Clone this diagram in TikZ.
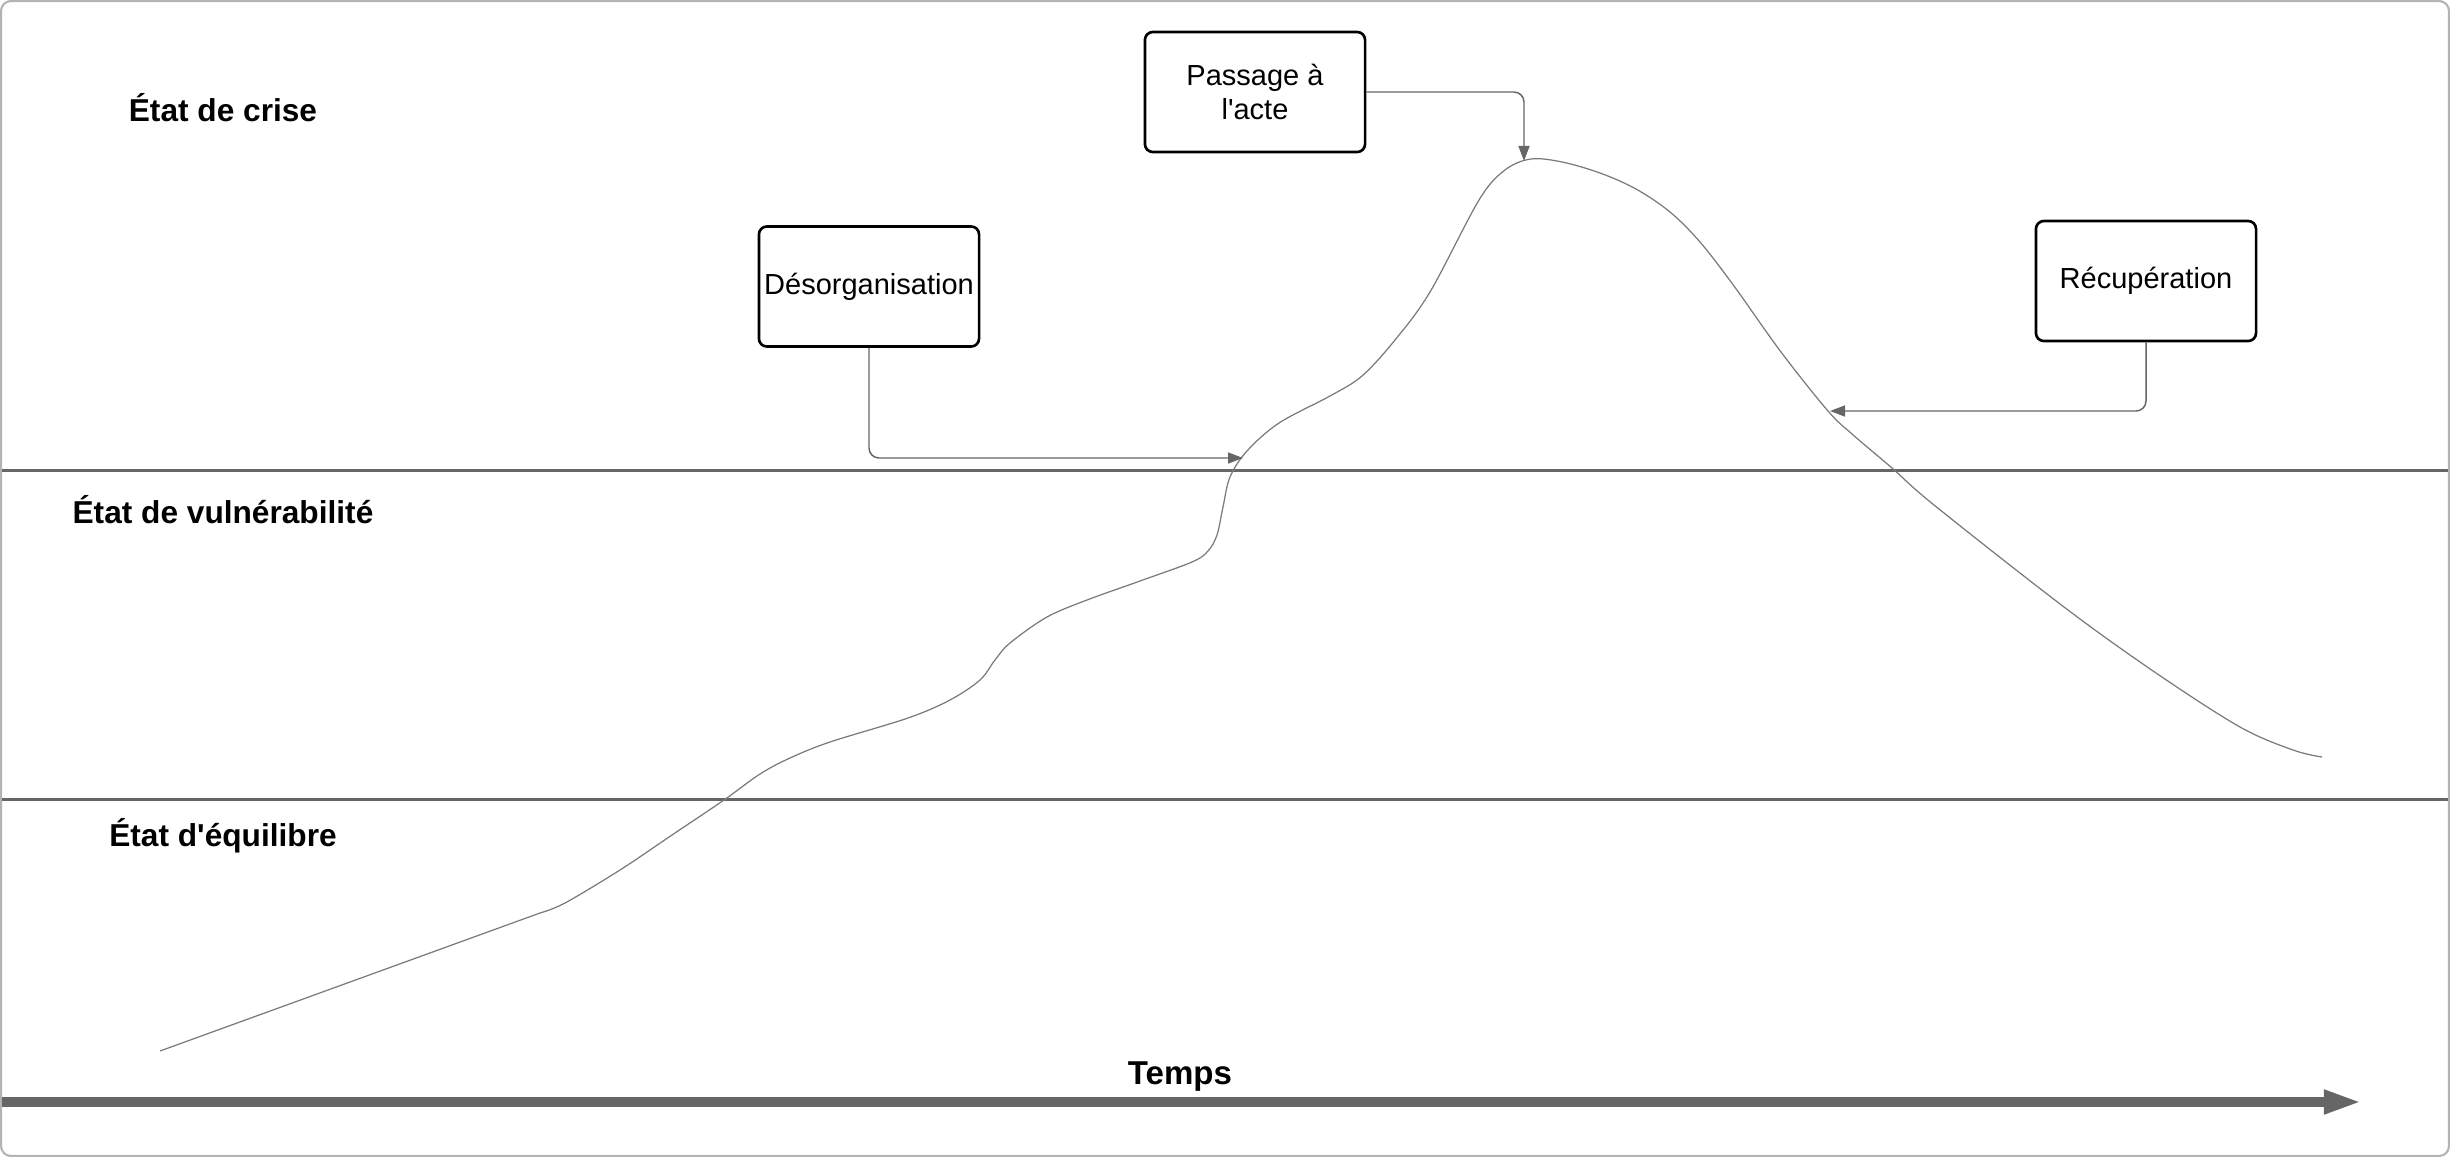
\documentclass[tikz,border=0pt]{standalone}
\usepackage{fontspec}
\setmainfont{Liberation Sans}
% plain family: keeps straight apostrophes
\newfontfamily\drawfont{Liberation Sans}
\usetikzlibrary{arrows.meta}
\definecolor{framegray}{HTML}{B3B3B3}
\definecolor{linegray}{HTML}{666666}
\definecolor{curvegray}{HTML}{7A7A7A}

\begin{document}
\begin{tikzpicture}[x=0.01cm,y=-0.01cm,
  phase/.style={draw=black, line width=0.75pt, rounded corners=0.08cm,
    minimum width=2.2cm, minimum height=1.2cm, inner sep=0pt, align=center,
    font=\drawfont\fontsize{8.25pt}{9.7pt}\selectfont},
  statelabel/.style={anchor=base, inner sep=0pt, font=\drawfont\fontsize{9pt}{11pt}\selectfont\bfseries},
  band/.style={linegray, line width=0.85pt},
  link/.style={linegray, line width=0.42pt, rounded corners=0.1cm,
    -{Triangle[length=0.15cm,width=0.11cm]}},
  evolution/.style={curvegray, line width=0.35pt},
  timeaxis/.style={linegray, line width=2.85pt, -{Triangle[length=0.38cm,width=0.22cm]}}]

% page extent and outer frame
\useasboundingbox (0,0) rectangle (2450,1157);
\draw[framegray, line width=0.6pt, rounded corners=0.1cm] (1,1) rectangle (2449,1156);

% boundaries between the three states
\draw[band] (2,470) -- (2448,470);
\draw[band] (2,799) -- (2448,799);

% state labels
\node[statelabel] (lcrise) at (223,121) {État de crise};
\node[statelabel] (lvuln)  at (223,523) {État de vulnérabilité};
\node[statelabel] (lequi)  at (223,846) {État d'équilibre};

% time axis
\coordinate (tstart) at (2,1102);
\coordinate (tend) at (2362,1102);
\draw[timeaxis] (tstart) -- (tend);
\node[statelabel, font=\drawfont\fontsize{9.4pt}{11pt}\selectfont\bfseries] (ltemps) at (1180,1084) {Temps};

% evolution of the person's state over time
\draw[evolution] (160,1051) -- plot[smooth, tension=0.55] coordinates {
  (540,913) (565,903) (620,870) (672,835) (724,800) (760,774) (790,758)
  (830,742) (908,718) (950,700) (980,680) (995,660) (1010,643) (1047,617)
  (1087,600) (1140,581) (1192,562) (1208,551) (1217,535) (1223,507)
  (1230,477) (1247,451) (1279,423) (1330,396) (1362,376) (1395,340)
  (1430,292) (1479,200) (1505,170) (1531,159) (1562,162) (1600,173)
  (1636,189) (1670,212) (1700,242) (1734,286) (1781,352) (1828,411)
  (1852,434) (1892,468) (1934,505) (2064,607) (2156,673) (2240,727)
  (2293,750) (2322,757)};

% phases
\node[phase] (deso) at (869,286.5) {Désorganisation};
\node[phase] (pass) at (1255,92) {Passage à\\l'acte};
\node[phase] (recu) at (2146,281) {Récupération};

% points of the curve the phases refer to
\coordinate (dtip) at (1243,458);
\coordinate (ptip) at (1524,161);
\coordinate (rtip) at (1830,411);

\draw[link] (deso.south) |- (dtip);
\draw[link] (pass.east) -| (ptip);
\draw[link] (recu.south) |- (rtip);
\end{tikzpicture}
\end{document}
